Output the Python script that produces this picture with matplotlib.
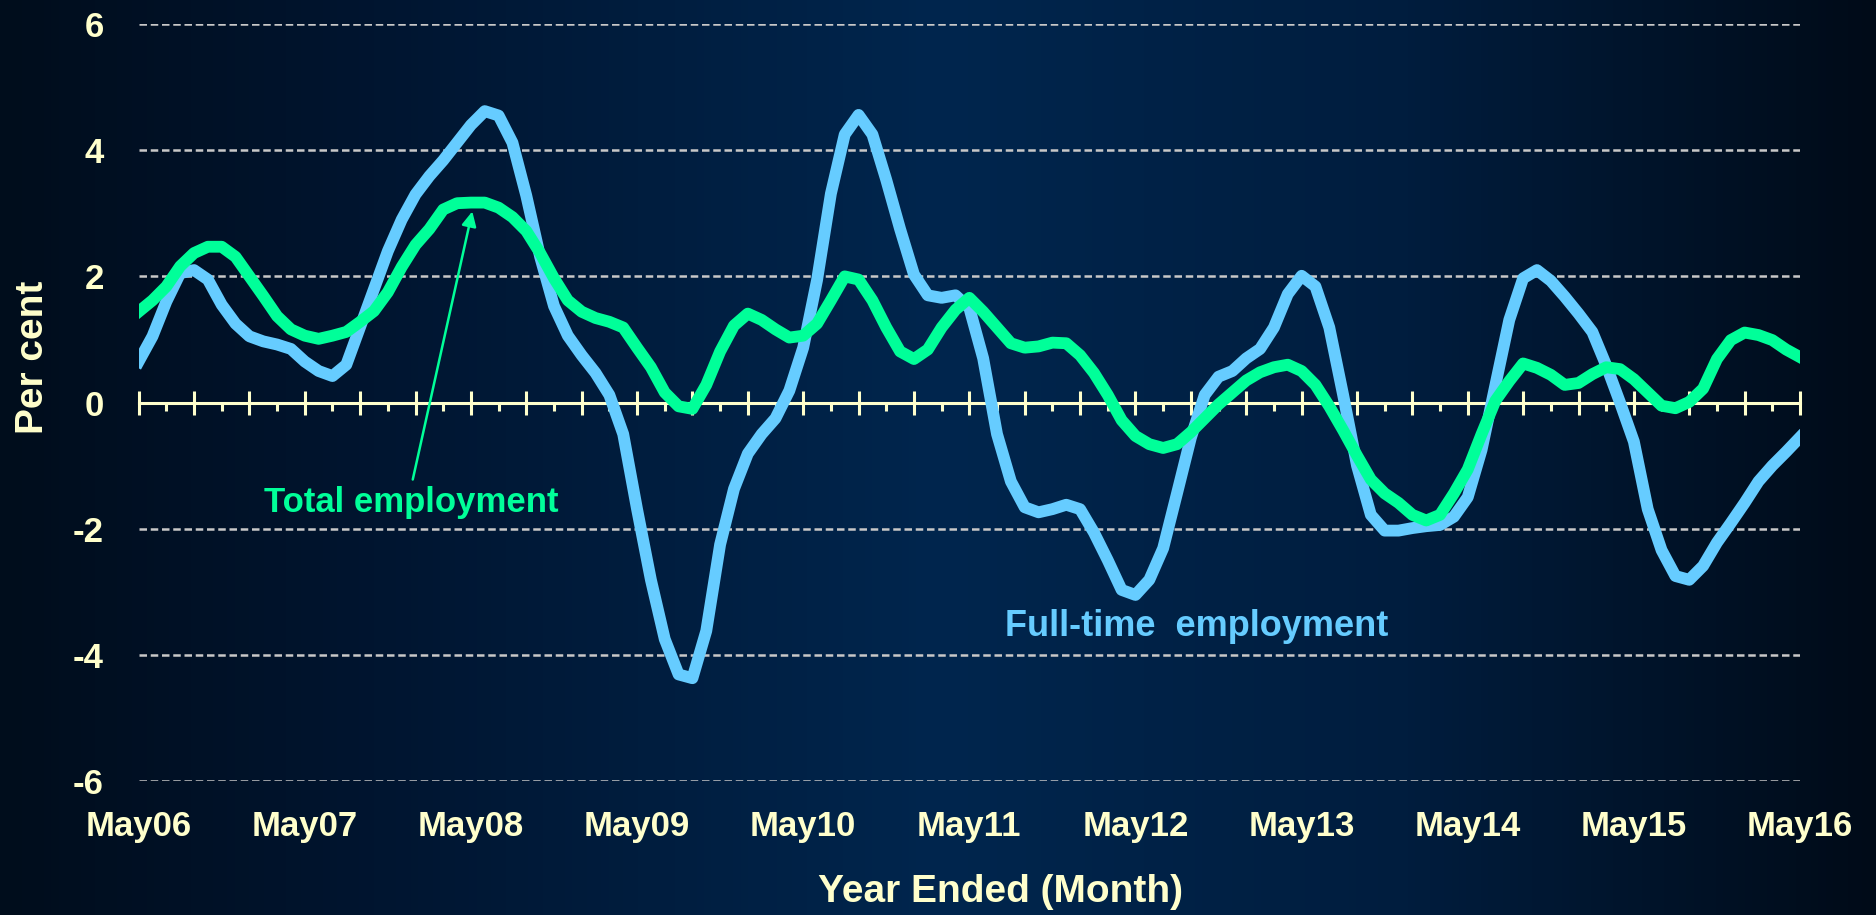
import numpy as np
import matplotlib.pyplot as plt
from matplotlib.colors import LinearSegmentedColormap

# --- Data (year-ended growth, per cent, monthly May06 .. May16) ---
full_time = [
    0.65, 1.05, 1.60, 2.05, 2.10, 1.95, 1.55, 1.25, 1.05, 0.97,
    0.92, 0.85, 0.65, 0.50, 0.42, 0.60, 1.20, 1.80, 2.40, 2.90,
    3.30, 3.59, 3.84, 4.12, 4.40, 4.62, 4.55, 4.12, 3.28, 2.31,
    1.53, 1.06, 0.75, 0.47, 0.12, -0.50, -1.69, -2.81, -3.75, -4.31,
    -4.37, -3.62, -2.25, -1.37, -0.81, -0.50, -0.25, 0.19, 0.87, 1.94,
    3.31, 4.25, 4.56, 4.25, 3.53, 2.75, 2.03, 1.70, 1.66, 1.70,
    1.50, 0.70, -0.50, -1.25, -1.66, -1.74, -1.69, -1.62, -1.69, -2.06,
    -2.50, -2.97, -3.05, -2.81, -2.31, -1.44, -0.56, 0.12, 0.41, 0.50,
    0.70, 0.85, 1.19, 1.72, 2.01, 1.84, 1.19, 0.12, -1.00, -1.78,
    -2.03, -2.03, -1.99, -1.96, -1.94, -1.81, -1.50, -0.75, 0.28, 1.31,
    1.97, 2.10, 1.93, 1.68, 1.41, 1.12, 0.59, 0.00, -0.62, -1.69,
    -2.34, -2.75, -2.81, -2.59, -2.22, -1.91, -1.59, -1.25, -1.00, -0.78,
    -0.55,
]
total = [
    1.44, 1.62, 1.84, 2.16, 2.37, 2.47, 2.47, 2.31, 2.00, 1.69,
    1.37, 1.16, 1.06, 1.01, 1.06, 1.12, 1.28, 1.45, 1.75, 2.15,
    2.50, 2.75, 3.06, 3.16, 3.17, 3.17, 3.09, 2.94, 2.72, 2.37,
    1.97, 1.62, 1.44, 1.34, 1.28, 1.19, 0.87, 0.56, 0.16, -0.06,
    -0.10, 0.28, 0.81, 1.22, 1.41, 1.31, 1.16, 1.03, 1.06, 1.25,
    1.62, 2.00, 1.95, 1.62, 1.19, 0.81, 0.69, 0.84, 1.19, 1.47,
    1.66, 1.44, 1.19, 0.94, 0.87, 0.89, 0.95, 0.94, 0.75, 0.47,
    0.12, -0.28, -0.53, -0.66, -0.72, -0.66, -0.47, -0.25, -0.03, 0.16,
    0.35, 0.48, 0.56, 0.60, 0.50, 0.28, -0.06, -0.44, -0.84, -1.22,
    -1.44, -1.59, -1.78, -1.87, -1.78, -1.44, -1.06, -0.50, 0.03, 0.34,
    0.62, 0.55, 0.44, 0.28, 0.31, 0.45, 0.56, 0.53, 0.37, 0.16,
    -0.05, -0.09, 0.01, 0.22, 0.69, 0.99, 1.11, 1.07, 0.99, 0.84,
    0.72,
]
year_labels = ['May06', 'May07', 'May08', 'May09', 'May10', 'May11',
               'May12', 'May13', 'May14', 'May15', 'May16']
y_ticks = [-6, -4, -2, 0, 2, 4, 6]

months = np.arange(len(full_time))

# --- Style ---
CREAM = '#ffffcc'
BLUE = '#66ccff'
GREEN = '#00ff99'
BOLD = ['Liberation Sans', 'DejaVu Sans']

fig = plt.figure(figsize=(18.76, 9.15), dpi=100)

# background gradient (dark edges, lighter navy centre)
bg = fig.add_axes([0, 0, 1, 1], zorder=0)
cmap = LinearSegmentedColormap.from_list(
    'bg', [(0.0, '#000d1c'), (0.2, '#001530'), (0.5, '#00264e'),
           (0.75, '#001d3e'), (1.0, '#000b18')])
bg.imshow(np.linspace(0, 1, 512)[None, :], aspect='auto', cmap=cmap,
          extent=[0, 1, 0, 1])
bg.axis('off')

ax = fig.add_axes([0.0739, 0.1464, 0.8856, 0.8273], zorder=1)
ax.set_facecolor('none')

ax.plot(months, full_time, color=BLUE, lw=8.5, solid_joinstyle='round', zorder=3)
ax.plot(months, total, color=GREEN, lw=8.5, solid_joinstyle='round', zorder=4)

ax.set_xlim(0, 120)
ax.set_ylim(-6, 6)

# dashed grid, skipping zero (the axis line sits there)
for yv in y_ticks:
    if yv != 0:
        ax.axhline(yv, color='#c8c8c8', lw=1.8, dashes=(3.0, 1.5), zorder=1)

for side in ['top', 'right', 'left']:
    ax.spines[side].set_visible(False)
ax.spines['bottom'].set_position(('data', 0))
ax.spines['bottom'].set_color(CREAM)
ax.spines['bottom'].set_linewidth(2.2)
ax.spines['bottom'].set_zorder(2)

ax.set_xticks(np.arange(0, 121, 4))
ax.set_xticks(np.arange(2, 121, 4), minor=True)
ax.tick_params(axis='x', which='major', direction='inout', length=17,
               width=2.2, color=CREAM, labelbottom=False)
ax.tick_params(axis='x', which='minor', direction='out', length=6,
               width=2.2, color=CREAM)

ax.set_yticks(y_ticks)
ax.set_yticklabels([str(v) for v in y_ticks], family=BOLD, fontweight='bold',
                   fontsize=25, color=CREAM)
ax.tick_params(axis='y', length=0, pad=25)

# year labels along the bottom edge
sec = ax.secondary_xaxis(0)
sec.set_xticks(np.arange(0, 121, 12))
sec.set_xticklabels(year_labels, family=BOLD, fontweight='bold',
                    fontsize=25, color=CREAM)
sec.tick_params(length=0, pad=21)
sec.spines['bottom'].set_visible(False)
sec.set_xlabel('Year Ended (Month)', family=BOLD, fontweight='bold',
               fontsize=28, color=CREAM, labelpad=22)
sec.xaxis.label.set_x(0.5186)

ax.set_ylabel('Per cent', family=BOLD, fontweight='bold', fontsize=28,
              color=CREAM)
ax.yaxis.set_label_coords(-0.053, 0.56)

# series labels
ax.annotate('', xy=(24.1, 3.03), xytext=(19.8, -1.22),
            arrowprops=dict(arrowstyle='-|>', color=GREEN, lw=1.8,
                            mutation_scale=22, shrinkA=0, shrinkB=0),
            zorder=5)
ax.text(19.7, -1.58, 'Total employment', color=GREEN, family=BOLD,
        fontweight='bold', fontsize=25, ha='center', va='center')
ax.text(76.4, -3.55, 'Full-time  employment', color=BLUE, family=BOLD,
        fontweight='bold', fontsize=26, ha='center', va='center')

fig.savefig('out.png', dpi=100)
